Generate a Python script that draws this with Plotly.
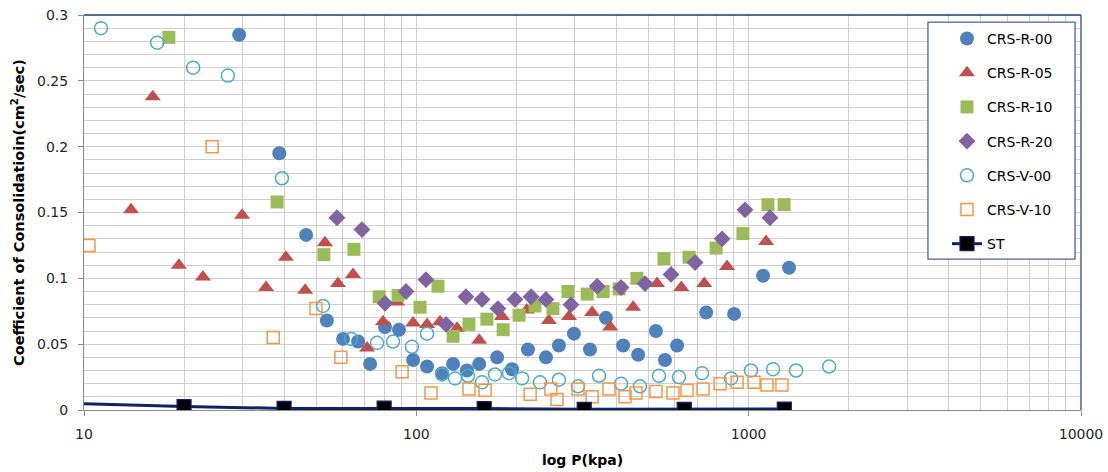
import plotly.graph_objects as go

# ---- data ----
r00_x = [29.3, 38.7, 46.6, 53.8, 60.2, 66.8, 72.6, 80.5, 88.7, 97.8, 107.7, 119.5, 129, 142, 154.6, 175, 194,
         216.7, 245.5, 268.6, 298, 333, 372, 419, 465, 526, 560, 609, 745, 904, 1105, 1323]
r00_y = [0.285, 0.195, 0.133, 0.068, 0.054, 0.052, 0.035, 0.063, 0.061, 0.038, 0.033, 0.028, 0.035, 0.030, 0.035,
         0.040, 0.031, 0.046, 0.040, 0.049, 0.058, 0.046, 0.070, 0.049, 0.042, 0.060, 0.038, 0.049, 0.074, 0.073,
         0.102, 0.108]

r05_x = [13.85, 16.1, 19.3, 22.8, 29.9, 35.3, 40.5, 46.3, 53.1, 58.1, 64.5, 71.1, 79.4, 87.5, 97.8, 107.7, 117.8,
         132.6, 154.6, 181, 215, 250.6, 288, 338, 383, 449, 530, 627, 735, 861, 1128]
r05_y = [0.152, 0.238, 0.110, 0.101, 0.148, 0.093, 0.116, 0.091, 0.127, 0.096, 0.103, 0.047, 0.067, 0.082, 0.066,
         0.065, 0.067, 0.062, 0.053, 0.071, 0.076, 0.068, 0.071, 0.074, 0.063, 0.078, 0.096, 0.093, 0.096, 0.109,
         0.128]

r10_x = [18.0, 38.1, 52.7, 64.9, 77.3, 88.1, 102.6, 116.2, 129, 144, 163, 182.5, 203.8, 227.5, 257.6, 286, 326.6,
         364.9, 407.6, 461, 556, 661.6, 798, 961, 1143, 1278]
r10_y = [0.283, 0.158, 0.118, 0.122, 0.086, 0.087, 0.078, 0.094, 0.056, 0.065, 0.069, 0.061, 0.072, 0.079, 0.077,
         0.090, 0.088, 0.090, 0.092, 0.100, 0.115, 0.116, 0.123, 0.134, 0.156, 0.156]

r20_x = [57.7, 68.6, 80.5, 93.1, 106.9, 122.9, 141, 157.6, 176, 198, 221.5, 245.5, 292, 350, 413, 487.6, 584, 690,
         832, 975, 1159]
r20_y = [0.146, 0.137, 0.081, 0.090, 0.099, 0.065, 0.086, 0.084, 0.077, 0.084, 0.086, 0.084, 0.080, 0.094, 0.093,
         0.096, 0.103, 0.112, 0.130, 0.152, 0.146]

v00_x = [11.25, 16.6, 21.3, 27.1, 39.4, 52.4, 63.6, 76.2, 85.1, 97, 107.7, 119.5, 130.8, 143, 157.6, 172.5, 190,
         208, 235.5, 268.6, 306.6, 354.6, 413, 471, 537, 617, 724, 885, 1016, 1184, 1389, 1746]
v00_y = [0.290, 0.279, 0.260, 0.254, 0.176, 0.079, 0.054, 0.051, 0.052, 0.048, 0.058, 0.027, 0.024, 0.026, 0.021,
         0.027, 0.028, 0.024, 0.021, 0.023, 0.018, 0.026, 0.020, 0.018, 0.026, 0.025, 0.028, 0.024, 0.030, 0.031,
         0.030, 0.033]

v10_x = [10.35, 24.3, 37.1, 49.9, 59.3, 90.6, 110.7, 144, 161, 220, 254, 265, 306.6, 338, 380, 424.6, 458, 526,
         592, 652.5, 729, 820.5, 923, 1038, 1135, 1259]
v10_y = [0.125, 0.200, 0.055, 0.077, 0.040, 0.029, 0.013, 0.016, 0.015, 0.012, 0.016, 0.008, 0.016, 0.010, 0.016,
         0.010, 0.013, 0.014, 0.013, 0.015, 0.016, 0.020, 0.021, 0.021, 0.019, 0.019]

st_x = [5, 20, 40, 80, 160, 320, 640, 1280]
st_y = [0.0068, 0.0026, 0.0012, 0.0014, 0.0011, 0.0005, 0.0004, 0.0007]

x_tick_vals = [10, 100, 1000, 10000]
x_tick_text = ["10", "100", "1000", "10000"]

FONT = "DejaVu Sans"

fig = go.Figure()

def add_markers(name, xs, ys, symbol, color, size, open_=False, lw=1.5):
    if open_:
        marker = dict(symbol=symbol + "-open", size=size, color=color, line=dict(width=lw, color=color))
    else:
        marker = dict(symbol=symbol, size=size, color=color, line=dict(width=0))
    fig.add_trace(go.Scatter(x=xs, y=ys, mode="markers", name=name, marker=marker, legendgroup=name))

add_markers("CRS-R-00", r00_x, r00_y, "circle", "#4F81BD", 14)
add_markers("CRS-R-05", r05_x, r05_y, "triangle-up", "#C0504D", 14)
add_markers("CRS-R-10", r10_x, r10_y, "square", "#9BBB59", 13)
add_markers("CRS-R-20", r20_x, r20_y, "diamond", "#8064A2", 13)
add_markers("CRS-V-00", v00_x, v00_y, "circle", "#4BACC6", 13, open_=True)
add_markers("CRS-V-10", v10_x, v10_y, "square", "#F79646", 12, open_=True)

fig.add_trace(go.Scatter(
    x=st_x, y=st_y, mode="lines+markers", name="ST", legendgroup="ST",
    line=dict(color="#0E2366", width=3),
    marker=dict(symbol="square", size=14, color="#000000", line=dict(width=1.2, color="#0E2366")),
))

grid_color = "#CFCFCF"
axis_color = "#8C8C8C"
frame_color = "#4A5F96"

minor_x = [m * 10 ** d for d in range(1, 4) for m in range(2, 10)]

fig.update_xaxes(
    type="log", range=[1, 4],
    tickvals=x_tick_vals, ticktext=x_tick_text,
    showgrid=True, gridcolor=grid_color, gridwidth=1.3,
    minor=dict(tickvals=minor_x, showgrid=True, gridcolor=grid_color, gridwidth=1.3, ticks=""),
    showline=True, linecolor=axis_color, linewidth=1,
    ticks="outside", ticklen=5, tickcolor=axis_color,
    ticklabelstandoff=6,
    tickfont=dict(family=FONT, size=14, color="#262626"),
    title=dict(text="<b>log P(kpa)</b>", font=dict(family=FONT, size=14, color="#000000"), standoff=14),
    zeroline=False, automargin=False,
)
fig.update_yaxes(
    range=[0, 0.3], dtick=0.05,
    showgrid=True, gridcolor=grid_color, gridwidth=1.3,
    minor=dict(dtick=0.01, showgrid=True, gridcolor=grid_color, gridwidth=1.3, ticks=""),
    showline=True, linecolor=axis_color, linewidth=1,
    ticks="outside", ticklen=5, tickcolor=axis_color,
    ticklabelstandoff=7,
    tickfont=dict(family=FONT, size=14, color="#262626"),
    title=dict(text="<b>Coefficient of Consolidatioin(cm<sup>2</sup>/sec)</b>",
               font=dict(family=FONT, size=14.5, color="#000000"), standoff=8),
    zeroline=False, automargin=False,
)

fig.update_layout(
    width=1108, height=472,
    margin=dict(l=84, r=27, t=15, b=62),
    paper_bgcolor="white", plot_bgcolor="white",
    font=dict(family=FONT, size=14, color="#262626"),
    showlegend=True,
    legend=dict(
        x=0.8656, y=0.98, xanchor="left", yanchor="top",
        bgcolor="rgba(0,0,0,0)", borderwidth=0,
        font=dict(family=FONT, size=14, color="#000000"),
        traceorder="grouped", tracegroupgap=13,
        itemwidth=30,
    ),
    shapes=[
        dict(type="rect", xref="paper", yref="paper", x0=0.8465, x1=0.994, y0=0.382, y1=0.982,
             line=dict(color=frame_color, width=1.3), fillcolor="white", layer="above"),
        dict(type="line", xref="paper", yref="paper", x0=0, x1=1, y0=1, y1=1,
             line=dict(color="#1F3A6E", width=1.5), layer="above"),
        dict(type="line", xref="paper", yref="paper", x0=1, x1=1, y0=0, y1=1,
             line=dict(color=frame_color, width=1.5), layer="above"),
    ],
)

fig.write_html("out.html", config={"displayModeBar": False},
               post_script="document.body.style.margin='0px';")
